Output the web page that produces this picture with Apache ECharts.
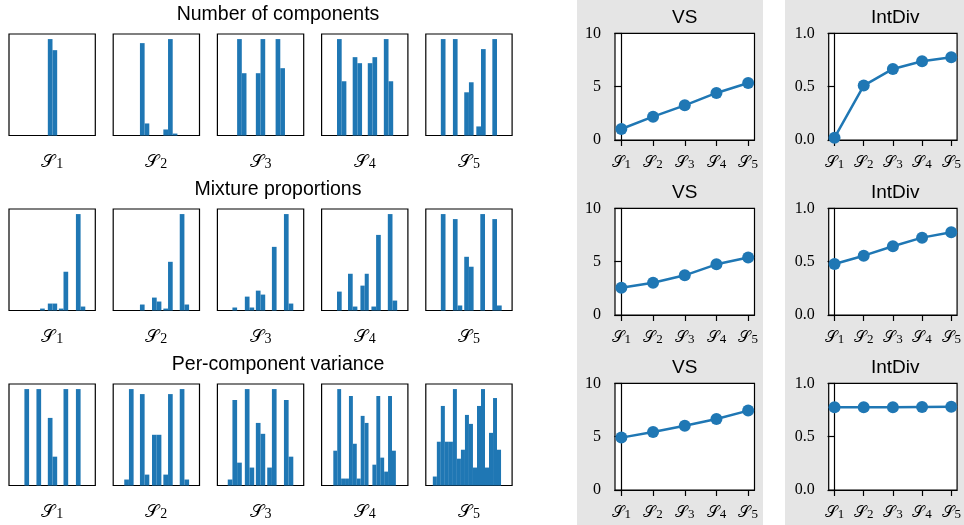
<!DOCTYPE html>
<html>
<head>
<meta charset="utf-8">
<script src="https://cdn.jsdelivr.net/npm/echarts@6/dist/echarts.min.js"></script>
<style>
  html, body { margin: 0; padding: 0; background: #fff; }
  #chart { width: 964px; height: 525px; }
</style>
</head>
<body>
<div id="chart"></div>
<script>
// ---------------- DATA ----------------
const rowTitles = ['Number of components', 'Mixture proportions', 'Per-component variance'];
const metricTitles = ['VS', 'IntDiv'];
const schemes = ['𝒮1', '𝒮2', '𝒮3', '𝒮4', '𝒮5'];

// histogram bars per panel: [binStart, binEnd, relativeHeight]
const histComponents = [
  [[8.29, 9.29, 1.0], [9.29, 10.29, 0.885]],
  [[5.71, 6.71, 0.958], [6.71, 7.71, 0.125], [10.71, 11.71, 0.0625], [11.71, 12.71, 1.0], [12.71, 13.71, 0.02]],
  [[4.21, 5.21, 1.0], [5.21, 6.21, 0.646], [8.21, 9.21, 0.646], [9.21, 10.21, 1.0], [12.43, 13.43, 1.0], [13.43, 14.43, 0.698]],
  [[3.29, 4.29, 1.0], [4.29, 5.29, 0.5625], [6.64, 7.64, 0.8125], [7.64, 8.64, 0.75], [9.86, 10.86, 0.75], [10.86, 11.86, 0.8125], [13.29, 14.29, 1.0], [14.29, 15.29, 0.5625]],
  [[3.21, 4.21, 1.0], [5.79, 6.79, 1.0], [8.21, 9.21, 0.448], [9.21, 10.21, 0.552], [10.79, 11.79, 0.094], [11.79, 12.79, 0.896], [14.21, 15.21, 1.0]]
];
const histProportions = [
  [[6.64, 7.64, 0.02], [8.29, 9.29, 0.072], [9.29, 10.29, 0.072], [10.64, 11.64, 0.02], [11.64, 12.64, 0.402], [14.29, 15.29, 1.0], [15.29, 16.29, 0.041]],
  [[5.71, 6.71, 0.062], [8.29, 9.29, 0.134], [9.29, 10.29, 0.093], [10.71, 11.71, 0.02], [11.71, 12.71, 0.505], [14.21, 15.21, 1.0], [15.21, 16.21, 0.062]],
  [[3.21, 4.21, 0.031], [5.86, 6.86, 0.144], [6.86, 7.86, 0.031], [8.21, 9.21, 0.206], [9.21, 10.21, 0.165], [11.64, 12.64, 0.66], [14.21, 15.21, 1.0], [15.21, 16.21, 0.072]],
  [[3.29, 4.29, 0.196], [5.64, 6.64, 0.381], [6.64, 7.64, 0.041], [8.29, 9.21, 0.258], [9.21, 10.07, 0.381], [10.64, 11.64, 0.041], [11.64, 12.64, 0.784], [14.14, 15.14, 1.0], [15.14, 16.14, 0.103]],
  [[3.21, 4.21, 1.0], [5.79, 6.79, 0.948], [6.79, 7.79, 0.052], [8.21, 9.21, 0.557], [9.21, 10.21, 0.454], [11.64, 12.64, 1.0], [14.21, 15.21, 0.948], [15.21, 16.21, 0.052]]
];
const histVariance = [
  [[3.29, 4.29, 1.0], [5.86, 6.86, 1.0], [8.29, 9.29, 0.701], [9.29, 10.29, 0.299], [11.64, 12.64, 1.0], [14.29, 15.29, 1.0]],
  [[2.36, 3.36, 0.062], [3.36, 4.36, 1.0], [5.71, 6.71, 0.948], [6.71, 7.71, 0.113], [8.29, 9.29, 0.526], [9.29, 10.29, 0.526], [10.71, 11.71, 0.113], [11.71, 12.71, 0.948], [14.21, 15.21, 1.0], [15.21, 16.21, 0.062]],
  [[2.21, 3.21, 0.062], [3.21, 4.21, 0.887], [4.21, 5.21, 0.237], [5.86, 6.86, 1.0], [6.86, 7.86, 0.186], [8.21, 9.21, 0.649], [9.21, 10.21, 0.536], [10.64, 11.64, 0.186], [11.64, 12.64, 1.0], [14.21, 15.21, 0.887], [15.21, 16.21, 0.299]],
  [[2.50, 3.34, 0.361], [3.34, 4.17, 1.0], [4.17, 5.01, 0.072], [5.01, 5.84, 0.072], [5.84, 6.68, 0.928], [6.68, 7.51, 0.433], [7.51, 8.35, 0.072], [8.35, 9.18, 0.722], [9.18, 10.02, 0.649], [10.85, 11.69, 0.216], [11.69, 12.52, 0.928], [12.52, 13.36, 0.289], [13.36, 14.19, 0.144], [14.19, 15.03, 0.928], [15.03, 15.86, 0.361]],
  [[1.50, 2.36, 0.093], [2.36, 3.21, 0.454], [3.21, 4.07, 0.825], [4.07, 4.93, 0.454], [4.93, 5.79, 0.454], [5.79, 6.64, 1.0], [6.64, 7.50, 0.278], [7.50, 8.36, 0.371], [8.36, 9.21, 0.732], [9.21, 10.07, 0.639], [10.07, 10.93, 0.186], [10.93, 11.79, 0.825], [11.79, 12.64, 1.0], [12.64, 13.50, 0.186], [13.50, 14.36, 0.546], [14.36, 15.21, 0.907], [15.21, 16.07, 0.371]]
];

// metric values per scheme (S1..S5)
const vsComponents = [1.03, 2.19, 3.25, 4.41, 5.34];
const intDivComponents = [0.022, 0.51, 0.666, 0.738, 0.775];
const vsProportions = [2.56, 3.03, 3.72, 4.75, 5.38];
const intDivProportions = [0.478, 0.556, 0.644, 0.725, 0.775];
const vsVariance = [4.91, 5.44, 6.03, 6.66, 7.44];
const intDivVariance = [0.775, 0.775, 0.775, 0.778, 0.781];

// axis ranges / ticks
const histXRange = [0, 18.43];
const histYMax = 1 / 0.95;
const vsTicks = { min: 0, max: 10, interval: 5 };
const intDivTicks = { min: 0, max: 1, interval: 0.5 };
const schemeIdx = [0, 1, 2, 3, 4];

// ---------------- BUILD ----------------
const BLUE = '#1f77b4';
const SERIF = '"Liberation Serif", "DejaVu Serif", serif';
const SANS = '"Liberation Sans", Arial, sans-serif';
const MATH = '"DejaVu Serif", "DejaVu Sans", "Noto Sans", serif';

const histRows = [histComponents, histProportions, histVariance];
const metricRows = [[vsComponents, intDivComponents], [vsProportions, intDivProportions], [vsVariance, intDivVariance]];

const histLeft = [9, 113.2, 217.4, 321.6, 425.8];
const histW = 86.3, histH = 101.5;
const rowTop = [34, 209, 384];
const lineLeft = [615, 828.7];
const lineW = [139.5, 133];
const lineTop = [33.3, 208.3, 383.3];
const lineH = 106.7;

function schemeRich(label) {
  const parts = Array.from(label);
  return '{s|' + parts[0] + '}{b|' + parts.slice(1).join('') + '}';
}

const grids = [], xAxes = [], yAxes = [], series = [];

function renderBar(params, api) {
  const p0 = api.coord([api.value(0), api.value(2)]);
  const p1 = api.coord([api.value(1), 0]);
  return {
    type: 'rect',
    shape: { x: p0[0], y: p0[1], width: p1[0] - p0[0], height: p1[1] - p0[1] },
    style: { fill: BLUE }
  };
}

histRows.forEach((row, r) => {
  row.forEach((bars, c) => {
    const gi = grids.length;
    grids.push({
      left: histLeft[c], top: rowTop[r], width: histW, height: histH,
      show: true, backgroundColor: '#fff', borderColor: '#000', borderWidth: 1.2
    });
    xAxes.push({
      gridIndex: gi, type: 'value', min: histXRange[0], max: histXRange[1],
      axisLine: { show: false }, axisTick: { show: false }, axisLabel: { show: false }, splitLine: { show: false },
      name: schemeRich(schemes[c]), nameLocation: 'middle', nameGap: 14,
      nameTextStyle: {
        rich: {
          s: { fontFamily: MATH, fontSize: 18, color: '#000', lineHeight: 22, verticalAlign: 'bottom' },
          b: { fontFamily: SERIF, fontSize: 14, color: '#000', lineHeight: 13, verticalAlign: 'bottom', padding: [0, 0, 0, 1] }
        }
      }
    });
    yAxes.push({
      gridIndex: gi, type: 'value', min: 0, max: histYMax, show: false, splitLine: { show: false }
    });
    series.push({
      type: 'custom', xAxisIndex: gi, yAxisIndex: gi, renderItem: renderBar,
      encode: { x: [0, 1], y: 2 }, data: bars, silent: true
    });
  });
});

metricRows.forEach((pair, r) => {
  pair.forEach((vals, c) => {
    const gi = grids.length;
    const ticks = c === 0 ? vsTicks : intDivTicks;
    grids.push({
      left: lineLeft[c], top: lineTop[r], width: lineW[c], height: lineH,
      show: true, backgroundColor: '#fff', borderColor: '#000', borderWidth: 1.2
    });
    xAxes.push({
      gridIndex: gi, type: 'value', min: -0.2, max: 4.2,
      axisLine: { show: true, lineStyle: { color: '#000', width: 1.2 } },
      axisTick: { show: true, customValues: schemeIdx, length: 6, lineStyle: { color: '#000', width: 1.2 } },
      axisLabel: {
        customValues: schemeIdx, margin: 11,
        formatter: v => schemeRich(schemes[Math.round(v)]),
        rich: {
          s: { fontFamily: MATH, fontSize: 16, color: '#000', lineHeight: 20, verticalAlign: 'bottom' },
          b: { fontFamily: SERIF, fontSize: 13, color: '#000', lineHeight: 12, verticalAlign: 'bottom', padding: [0, 0, 0, 1] }
        }
      },
      splitLine: { show: false }
    });
    yAxes.push({
      gridIndex: gi, type: 'value', min: ticks.min, max: ticks.max, interval: ticks.interval,
      axisLine: { show: true, lineStyle: { color: '#000', width: 1.2 } },
      axisTick: { show: true, length: 7, lineStyle: { color: '#000', width: 1.2 } },
      axisLabel: {
        fontFamily: SERIF, fontSize: 16, color: '#000', margin: 14,
        formatter: v => c === 0 ? String(v) : v.toFixed(1)
      },
      splitLine: { show: false }
    });
    series.push({
      type: 'line', xAxisIndex: gi, yAxisIndex: gi,
      data: vals.map((v, i) => [schemeIdx[i], v]),
      symbol: 'circle', symbolSize: 12,
      lineStyle: { color: BLUE, width: 2.5 },
      itemStyle: { color: BLUE },
      silent: true, animation: false
    });
  });
});

const graphics = [
  { type: 'rect', shape: { x: 577, y: 0, width: 186, height: 525 }, style: { fill: '#e5e5e5' }, z: -100, silent: true },
  { type: 'rect', shape: { x: 785, y: 0, width: 179, height: 525 }, style: { fill: '#e5e5e5' }, z: -100, silent: true }
];
const titleY = [14.5, 189.5, 364.5];
rowTitles.forEach((t, r) => {
  graphics.push({
    type: 'text', x: 278, y: titleY[r], silent: true,
    style: { text: t, fill: '#000', font: '19.5px ' + SANS, textAlign: 'center', textVerticalAlign: 'middle' }
  });
  metricTitles.forEach((m, c) => {
    graphics.push({
      type: 'text', x: lineLeft[c] + lineW[c] / 2, y: lineTop[r] - 16, silent: true,
      style: { text: m, fill: '#000', font: '19px ' + SANS, textAlign: 'center', textVerticalAlign: 'middle' }
    });
  });
});

const chart = echarts.init(document.getElementById('chart'), null, { renderer: 'canvas' });
chart.setOption({
  animation: false,
  backgroundColor: '#fff',
  grid: grids,
  xAxis: xAxes,
  yAxis: yAxes,
  series: series,
  graphic: { elements: graphics }
});
</script>
</body>
</html>
